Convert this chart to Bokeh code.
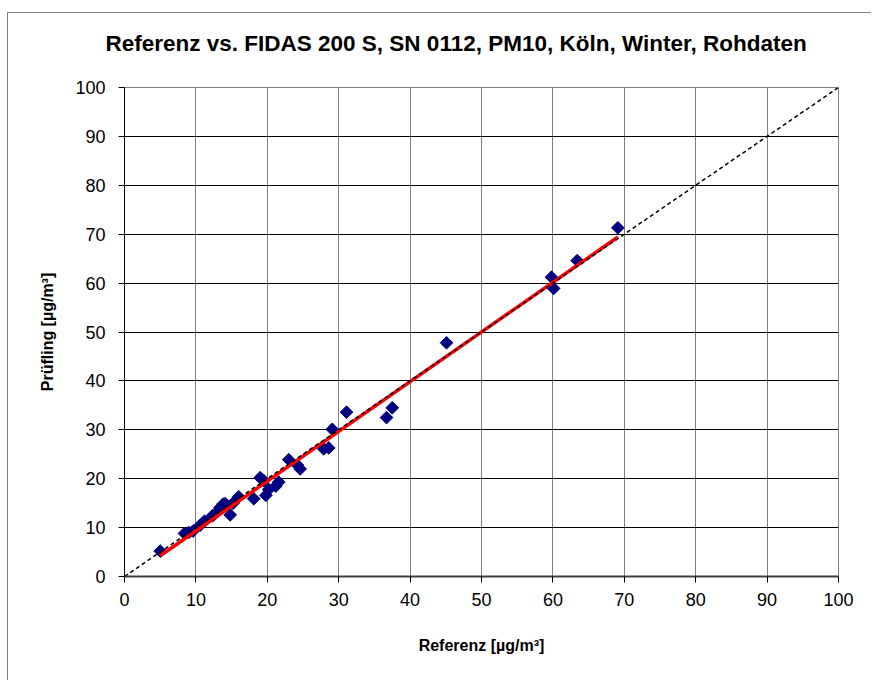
import numpy as np
from bokeh.plotting import figure
from bokeh.models import Range1d, FixedTicker, ColumnDataSource
from bokeh.embed import file_html
from bokeh.resources import INLINE

# Data
referenz = [5.0, 8.4, 9.0, 9.6, 10.6, 11.2, 12.3, 12.6, 13.4, 13.8, 14.1, 14.8, 15.2, 16.0,
            18.1, 19.0, 19.5, 19.8, 20.2, 21.2, 21.6, 23.0, 24.2, 24.6, 27.9, 28.6, 29.1,
            31.1, 36.7, 37.5, 45.1, 59.8, 60.1, 63.4, 69.1]
pruefling = [5.2, 8.8, 9.0, 9.3, 10.5, 11.3, 12.4, 12.7, 14.1, 14.8, 14.9, 12.6, 15.0, 16.3,
             15.9, 20.2, 19.6, 16.6, 17.8, 18.5, 19.3, 23.9, 22.8, 22.0, 26.1, 26.3, 30.1,
             33.6, 32.5, 34.5, 47.8, 61.2, 58.9, 64.6, 71.3]
diag = [0, 100]
ticks = [0, 10, 20, 30, 40, 50, 60, 70, 80, 90, 100]

title_text = "Referenz vs. FIDAS 200 S, SN 0112, PM10, Köln, Winter, Rohdaten"
xlabel = "Referenz [µg/m³]"
ylabel = "Prüfling [µg/m³]"

FONT = "Liberation Sans"

p = figure(width=864, height=668, output_backend="svg", toolbar_location=None,
           x_range=Range1d(0, 100), y_range=Range1d(0, 100),
           min_border_left=116, min_border_top=74, min_border_right=34, min_border_bottom=105)
p.styles = {"margin-left": "7px", "margin-top": "12px",
            "border-left": "1px solid #808080", "border-top": "1px solid #808080"}

# a blank second line lifts the title away from the plot frame
p.title.text = title_text + "\n "
p.title.align = "left"
p.title.vertical_align = "bottom"
p.title.offset = -19
p.title.standoff = 14
p.title.text_font = FONT
p.title.text_font_size = "22.5px"
p.title.text_font_style = "bold"
p.title.text_color = "black"

p.outline_line_color = "#808080"
p.outline_line_width = 1

p.xaxis.ticker = FixedTicker(ticks=ticks)
p.yaxis.ticker = FixedTicker(ticks=ticks)
p.xgrid.ticker = FixedTicker(ticks=ticks)
p.ygrid.ticker = FixedTicker(ticks=ticks)
p.xgrid.grid_line_color = "#808080"
p.ygrid.grid_line_color = "black"
p.xgrid.grid_line_width = 1
p.ygrid.grid_line_width = 1

for ax in (p.xaxis, p.yaxis):
    ax.major_label_text_font = FONT
    ax.major_label_text_font_size = "18px"
    ax.major_label_text_color = "black"
    ax.axis_label_text_font = FONT
    ax.axis_label_text_font_size = "16px"
    ax.axis_label_text_font_style = "bold"
    ax.axis_label_text_color = "black"
    ax.minor_tick_line_color = None
    ax.major_tick_in = 0
    ax.major_tick_out = 6
    ax.major_tick_line_color = "black"

p.xaxis.axis_label = xlabel
p.yaxis.axis_label = ylabel
p.xaxis.axis_line_color = "#404040"
p.xaxis.axis_line_width = 2
p.yaxis.axis_line_color = "black"
p.xaxis.major_label_standoff = 10
p.yaxis.major_label_standoff = 13
p.xaxis.axis_label_standoff = 28
p.yaxis.axis_label_standoff = 16

src = ColumnDataSource(dict(x=referenz, y=pruefling))
p.scatter("x", "y", source=src, marker="square", angle=np.pi / 4, size=9,
          fill_color="#000080", line_color="#000080")

# regression line
slope, intercept = np.polyfit(referenz, pruefling, 1)
xr = np.array([min(referenz), max(referenz)])
p.line(xr, slope * xr + intercept, line_color="#FF0000", line_width=3.5)

# 1:1 line
p.line(diag, diag, line_color="black", line_width=1.5, line_dash="4 3")

open("out.html", "w").write(file_html(p, INLINE))
